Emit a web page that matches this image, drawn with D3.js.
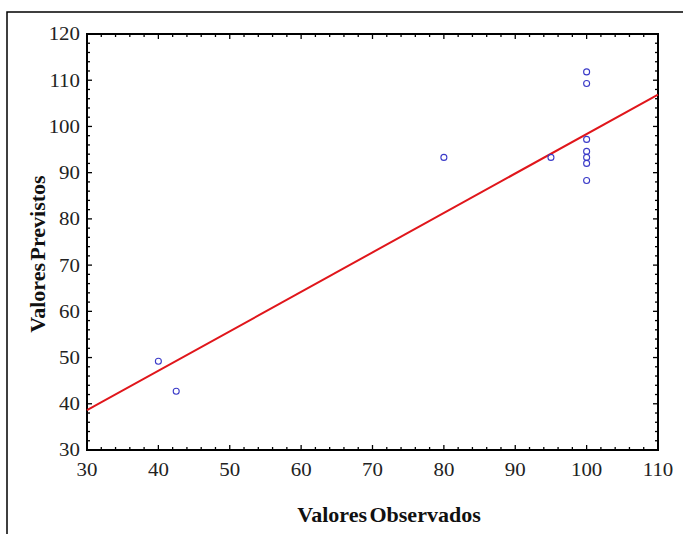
<!DOCTYPE html>
<html><head><meta charset="utf-8">
<script src="https://cdn.jsdelivr.net/npm/d3@7"></script>
<style>body{margin:0;background:#fff}svg{display:block}</style>
</head><body>
<svg id="c" width="687" height="534"></svg>
<script>
const obsX = [40, 42.5, 80, 95, 100, 100, 100, 100, 100, 100, 100];
const predY = [49.2, 42.7, 93.3, 93.3, 111.8, 109.3, 97.2, 94.6, 93.3, 92.0, 88.3];
const fitX = [30, 110];
const fitY = [38.6, 106.9];
const xTicks = [30, 40, 50, 60, 70, 80, 90, 100, 110];
const yTicks = [30, 40, 50, 60, 70, 80, 90, 100, 110, 120];
const xTitle = "Valores Observados";
const yTitle = "Valores Previstos";

const svg = d3.select("#c");
const L = 87, R = 658, T = 34, B = 450;
const x = d3.scaleLinear().domain([30, 110]).range([L, R]);
const y = d3.scaleLinear().domain([30, 120]).range([B, T]);

svg.append("path").attr("d", "M7,534V12H683").attr("fill","none").attr("stroke","#000").attr("stroke-width",1.5);

const minorX = d3.range(30, 110.01, 2), minorY = d3.range(30, 120.01, 2);
const tk = svg.append("g").attr("stroke","#000").attr("stroke-width",1.3);
function tickLen(v){ return v % 10 === 0 ? 5 : 3; }
minorX.forEach(v => {
  tk.append("line").attr("x1",x(v)).attr("x2",x(v)).attr("y1",B).attr("y2",B-tickLen(v));
  tk.append("line").attr("x1",x(v)).attr("x2",x(v)).attr("y1",T).attr("y2",T+tickLen(v));
});
minorY.forEach(v => {
  tk.append("line").attr("y1",y(v)).attr("y2",y(v)).attr("x1",L).attr("x2",L+tickLen(v));
  tk.append("line").attr("y1",y(v)).attr("y2",y(v)).attr("x1",R).attr("x2",R-tickLen(v));
});

svg.append("rect").attr("x",L).attr("y",T).attr("width",R-L).attr("height",B-T)
  .attr("fill","none").attr("stroke","#000").attr("stroke-width",2);

const font = "Liberation Serif";
svg.append("g").selectAll("text").data(xTicks).join("text")
  .attr("transform", d => `translate(${x(d)},476) scale(1.1,1)`).attr("text-anchor","middle")
  .attr("font-family", font).attr("font-size", 19).attr("fill","#222").text(d => d);
svg.append("g").selectAll("text").data(yTicks).join("text")
  .attr("transform", d => `translate(80,${y(d)}) scale(1.1,1)`).attr("dy","0.34em").attr("text-anchor","end")
  .attr("font-family", font).attr("font-size", 19).attr("fill","#222").text(d => d);

svg.append("line").attr("x1",x(fitX[0])).attr("y1",y(fitY[0])).attr("x2",x(fitX[1])).attr("y2",y(fitY[1]))
  .attr("stroke","#e0161b").attr("stroke-width",2);

svg.append("g").selectAll("circle").data(obsX.map((d,i)=>[d,predY[i]])).join("circle")
  .attr("cx", d => x(d[0])).attr("cy", d => y(d[1])).attr("r", 3)
  .attr("fill","none").attr("stroke","#3a3ac8").attr("stroke-width",1.1);

svg.append("text").attr("x", 389).attr("y", 522).attr("text-anchor","middle")
  .attr("font-family", font).attr("font-size", 22).attr("font-weight","bold").attr("fill","#111")
  .attr("word-spacing","-3px").text(xTitle);
svg.append("text").attr("transform","translate(45,254) rotate(-90)").attr("text-anchor","middle")
  .attr("font-family", font).attr("font-size", 22).attr("font-weight","bold").attr("fill","#111")
  .attr("word-spacing","-3px").text(yTitle);
</script>
</body></html>
